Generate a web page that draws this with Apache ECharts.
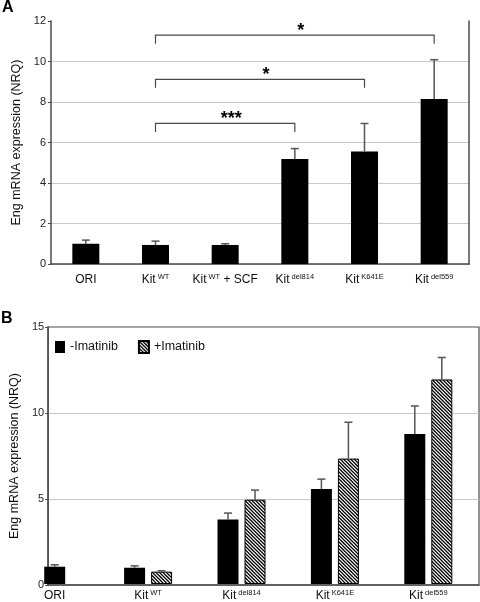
<!DOCTYPE html>
<html><head><meta charset="utf-8">
<script src="https://cdn.jsdelivr.net/npm/echarts@6/dist/echarts.min.js"></script>
<style>html,body{margin:0;padding:0;background:#fff}#c{width:480px;height:602px}</style>
</head><body><div id="c"></div>
<script>
// ---------- Panel A data ----------
const categoriesA = ['ORI', 'Kit^WT', 'Kit^WT + SCF', 'Kit^del814', 'Kit^K641E', 'Kit^del559'];
const valuesA = [1.0, 0.94, 0.94, 5.18, 5.56, 8.15];
const errorsA = [0.18, 0.19, 0.06, 0.52, 1.38, 1.94];
const ticksA = [0, 2, 4, 6, 8, 10, 12];
const sigFromA = [1, 1, 1];
const sigToA = [3, 4, 5];
const sigLevelA = [6.94, 9.12, 11.3];
const sigTextA = ['***', '*', '*'];

// ---------- Panel B data ----------
const categoriesB = ['ORI', 'Kit^WT', 'Kit^del814', 'Kit^K641E', 'Kit^del559'];
const seriesNamesB = ['-Imatinib', '+Imatinib'];
const minusImatinib = [1.01, 0.95, 3.77, 5.55, 8.75];
const minusImatinibErr = [0.11, 0.11, 0.37, 0.57, 1.64];
const plusImatinib = [null, 0.72, 4.92, 7.32, 11.94];
const plusImatinibErr = [null, 0.05, 0.56, 2.12, 1.28];
const ticksB = [0, 5, 10, 15];

const FONT = '"Liberation Sans", Arial, Helvetica, sans-serif';
const AX = '#4a4a4a';
const GRID = '#c8c8c8';
const ERR = '#555';

function fmtLabel(v) {
  const m = v.match(/^(\w+)\^(\w+)(.*)$/);
  if (!m) return '{n|' + v + '}';
  return '{n|' + m[1] + '}{s|' + m[2] + '}' + (m[3] ? '{n|' + m[3] + '}' : '');
}
const richLabel = {
  n: { fontSize: 12, color: '#111', fontFamily: FONT, lineHeight: 14 },
  s: { fontSize: 7.5, color: '#111', fontFamily: FONT, lineHeight: 9, verticalAlign: 'top', padding: [0, 0, 0, 2] }
};

function makeHatch() {
  const s = 7;
  const c = document.createElement('canvas');
  c.width = s; c.height = s;
  const g = c.getContext('2d');
  g.fillStyle = '#fff'; g.fillRect(0, 0, s, s);
  g.strokeStyle = '#000'; g.lineWidth = 1.25;
  g.beginPath();
  [-s, -s / 2, 0, s / 2, s].forEach(off => {
    g.moveTo(off - 1, -1); g.lineTo(off + s + 1, s + 1);
  });
  g.stroke();
  return c;
}
const hatch = { image: makeHatch(), repeat: 'repeat' };

function errRender(offset) {
  return function (params, api) {
    const i = api.value(0), v = api.value(1), e = api.value(2);
    if (isNaN(v) || isNaN(e)) return;
    const p0 = api.coord([i, v]);
    const p1 = api.coord([i, v + e]);
    const x = p0[0] + offset;
    return {
      type: 'group', children: [
        { type: 'line', shape: { x1: x, y1: p0[1], x2: x, y2: p1[1] }, style: { stroke: ERR, lineWidth: 1.5 } },
        { type: 'line', shape: { x1: x - 4, y1: p1[1], x2: x + 4, y2: p1[1] }, style: { stroke: ERR, lineWidth: 1.5 } }
      ]
    };
  };
}

function sigRender(params, api) {
  const a = api.value(0), b = api.value(1), y = api.value(2);
  const pa = api.coord([a, y]);
  const pb = api.coord([b, y]);
  const drop = 8.5;
  const txt = sigTextA[params.dataIndex];
  return {
    type: 'group', children: [
      { type: 'polyline', shape: { points: [[pa[0], pa[1] + drop], [pa[0], pa[1]], [pb[0], pb[1]], [pb[0], pb[1] + drop]] },
        style: { stroke: AX, lineWidth: 1.2, fill: null } },
      { type: 'text', style: { text: txt, x: (pa[0] + pb[0]) / 2 + 6, y: pa[1] - 4, align: 'center', verticalAlign: 'middle',
        font: 'bold 18px ' + FONT, fill: '#000' } }
    ]
  };
}

const chart = echarts.init(document.getElementById('c'), null, { renderer: 'canvas' });

const yName = 'Eng mRNA expression (NRQ)';
const yNameStyle = { fontSize: 12.5, color: '#111', fontFamily: FONT };

const option = {
  backgroundColor: '#fff',
  animation: false,
  textStyle: { fontFamily: FONT },
  graphic: [
    { type: 'text', left: 2, top: 0, style: { text: 'A', font: 'bold 16px ' + FONT, fill: '#000' } },
    { type: 'text', left: 1, top: 311, style: { text: 'B', font: 'bold 16px ' + FONT, fill: '#000' } }
  ],
  legend: {
    data: seriesNamesB,
    left: 55, top: 340, padding: 0,
    icon: 'rect',
    itemWidth: 10, itemHeight: 12, itemGap: 20,
    textStyle: { fontSize: 12.5, color: '#111', fontFamily: FONT },
    selectedMode: false
  },
  grid: [
    { left: 51, right: 11, top: 21, height: 243 },
    { left: 40, right: 1, top: 327, height: 258, show: true, borderColor: AX, borderWidth: 1.2, backgroundColor: 'transparent' },
    { left: 8, right: 5, top: 327, height: 258 }
  ],
  xAxis: [
    { gridIndex: 0, type: 'category', data: categoriesA,
      axisLine: { lineStyle: { color: AX, width: 1.5 } }, axisTick: { show: false },
      axisLabel: { formatter: fmtLabel, rich: richLabel, margin: 9, interval: 0 } },
    { gridIndex: 1, type: 'category', data: categoriesB, axisLine: { lineStyle: { color: AX, width: 1.5 } },
      axisTick: { show: false }, axisLabel: { show: false } },
    { gridIndex: 2, type: 'category', data: categoriesB, axisLine: { show: false }, axisTick: { show: false },
      axisLabel: { formatter: fmtLabel, rich: richLabel, margin: 5, interval: 0 } },
    { gridIndex: 2, type: 'category', data: categoriesB, show: false }
  ],
  yAxis: [
    { gridIndex: 0, type: 'value', min: ticksA[0], max: ticksA[ticksA.length - 1], interval: ticksA[1] - ticksA[0],
      axisLine: { show: true, lineStyle: { color: AX, width: 1.5 } },
      axisTick: { show: true, length: 3, lineStyle: { color: AX } },
      axisLabel: { fontSize: 11, color: '#222', margin: 5, fontFamily: FONT },
      splitLine: { show: true, showMaxLine: false, lineStyle: { color: GRID, width: 1 } },
      name: yName, nameLocation: 'middle', nameGap: 27, nameTextStyle: yNameStyle },
    { gridIndex: 0, type: 'value', position: 'right', min: ticksA[0], max: ticksA[ticksA.length - 1], interval: ticksA[1] - ticksA[0],
      axisLine: { show: true, lineStyle: { color: AX, width: 1.5 } }, axisTick: { show: false }, axisLabel: { show: false }, splitLine: { show: false } },
    { gridIndex: 1, type: 'value', min: ticksB[0], max: ticksB[ticksB.length - 1], interval: ticksB[1] - ticksB[0],
      axisLine: { show: true, lineStyle: { color: AX, width: 1.5 } },
      axisTick: { show: true, length: 3, lineStyle: { color: AX } },
      axisLabel: { fontSize: 11, color: '#222', margin: 4, fontFamily: FONT },
      splitLine: { show: true, showMaxLine: false, showMinLine: false, lineStyle: { color: GRID, width: 1 } },
      name: yName, nameLocation: 'middle', nameGap: 20, nameTextStyle: yNameStyle },
    { gridIndex: 2, type: 'value', min: ticksB[0], max: ticksB[ticksB.length - 1], show: false }
  ],
  series: [
    { type: 'bar', xAxisIndex: 0, yAxisIndex: 0, data: valuesA, barWidth: 27, itemStyle: { color: '#000' } },
    { type: 'custom', xAxisIndex: 0, yAxisIndex: 0, renderItem: errRender(0), z: 5,
      data: valuesA.map((v, i) => [i, v, errorsA[i]]), encode: { x: 0, y: 1 } },
    { type: 'custom', xAxisIndex: 0, yAxisIndex: 0, renderItem: sigRender, z: 6,
      data: sigFromA.map((f, i) => [f, sigToA[i], sigLevelA[i]]), encode: { x: [0, 1], y: 2 } },

    { name: seriesNamesB[0], type: 'bar', xAxisIndex: 2, yAxisIndex: 3, barWidth: 21, barGap: '28.6%',
      data: minusImatinib.map((v, i) => plusImatinib[i] == null ? null : v), itemStyle: { color: '#000' } },
    { name: seriesNamesB[1], type: 'bar', xAxisIndex: 2, yAxisIndex: 3, barWidth: 21, barGap: '28.6%',
      data: plusImatinib, itemStyle: { color: hatch, borderColor: '#000', borderWidth: 1 } },
    { name: seriesNamesB[0], type: 'bar', xAxisIndex: 3, yAxisIndex: 3, barWidth: 21,
      data: minusImatinib.map((v, i) => plusImatinib[i] == null ? v : null), itemStyle: { color: '#000' } },
    { type: 'custom', xAxisIndex: 2, yAxisIndex: 3, renderItem: errRender(-13.5), z: 5,
      data: minusImatinib.map((v, i) => plusImatinib[i] == null ? [i, NaN, NaN] : [i, v, minusImatinibErr[i]]), encode: { x: 0, y: 1 } },
    { type: 'custom', xAxisIndex: 2, yAxisIndex: 3, renderItem: errRender(13.5), z: 5,
      data: plusImatinib.map((v, i) => v == null ? [i, NaN, NaN] : [i, v, plusImatinibErr[i]]), encode: { x: 0, y: 1 } },
    { type: 'custom', xAxisIndex: 3, yAxisIndex: 3, renderItem: errRender(0), z: 5,
      data: minusImatinib.map((v, i) => plusImatinib[i] == null ? [i, v, minusImatinibErr[i]] : [i, NaN, NaN]), encode: { x: 0, y: 1 } }
  ]
};
chart.setOption(option);
</script>
</body></html>
